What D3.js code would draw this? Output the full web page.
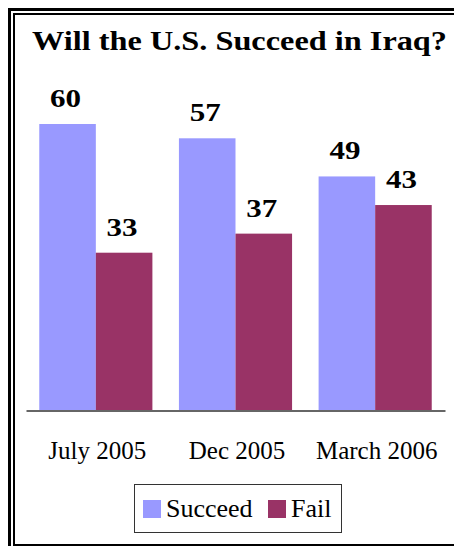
<!DOCTYPE html>
<html>
<head>
<meta charset="utf-8">
<script src="https://cdn.jsdelivr.net/npm/d3@7"></script>
<style>
  html, body { margin: 0; padding: 0; background: #fff; }
  svg { display: block; }
</style>
</head>
<body>
<script>
const categories = ["July 2005", "Dec 2005", "March 2006"];
const seriesNames = ["Succeed", "Fail"];
const succeedValues = [60, 57, 49];
const failValues = [33, 37, 43];
const colors = ["#9999ff", "#993366"];

const width = 454,
    height = 546;

const svg = d3.select("body").append("svg")
    .attr("width", width)
    .attr("height", height);

// double frame (cropped on right and bottom)
svg.append("rect")
    .attr("x", 9.5).attr("y", 9.5)
    .attr("width", 500).attr("height", 600)
    .attr("fill", "none").attr("stroke", "#000").attr("stroke-width", 3);
svg.append("rect")
    .attr("x", 14).attr("y", 14)
    .attr("width", 500).attr("height", 531)
    .attr("fill", "none").attr("stroke", "#000").attr("stroke-width", 2);

// title
svg.append("text")
    .attr("x", 32).attr("y", 50)
    .attr("textLength", 415)
    .attr("lengthAdjust", "spacingAndGlyphs")
    .style("font-family", "'Liberation Serif', 'Times New Roman', serif")
    .style("font-weight", "bold")
    .style("font-size", "27px")
    .text("Will the U.S. Succeed in Iraq?");

//scales
const x0 = d3.scaleBand()
    .domain(categories)
    .range([26, 445])
    .paddingInner(0.19)
    .paddingOuter(0.095);

const x1 = d3.scaleBand()
    .domain(seriesNames)
    .range([0, x0.bandwidth()]);

const y = d3.scaleLinear()
    .domain([0, 60])
    .range([410, 124]);

const rows = categories.map((c, i) => ({
    cat: c,
    vals: [
        { name: "Succeed", v: succeedValues[i] },
        { name: "Fail", v: failValues[i] }
    ]
}));

const groups = svg.selectAll("g.grp")
    .data(rows)
    .enter().append("g")
    .attr("class", "grp")
    .attr("transform", d => `translate(${x0(d.cat)},0)`);

groups.selectAll("rect")
    .data(d => d.vals)
    .enter().append("rect")
    .attr("x", d => x1(d.name))
    .attr("y", d => y(d.v))
    .attr("width", x1.bandwidth())
    .attr("height", d => y(0) - y(d.v))
    .attr("fill", (d, i) => colors[i]);

groups.selectAll("text")
    .data(d => d.vals)
    .enter().append("text")
    .attr("x", d => x1(d.name) + x1.bandwidth() / 2 - 2)
    .attr("y", d => y(d.v) - 17)
    .attr("text-anchor", "middle")
    .attr("textLength", 31)
    .attr("lengthAdjust", "spacingAndGlyphs")
    .style("font-family", "'Liberation Serif', 'Times New Roman', serif")
    .style("font-weight", "bold")
    .style("font-size", "26px")
    .text(d => d.v);

// axis
const axis = svg.append("g")
    .attr("transform", "translate(0,410.5)")
    .call(d3.axisBottom(x0).tickSize(0).tickSizeOuter(0).tickPadding(31));

axis.select(".domain")
    .attr("stroke", "#333")
    .attr("stroke-width", 1.5);

axis.selectAll("text")
    .attr("dx", 1.5)
    .style("font-family", "'Liberation Serif', 'Times New Roman', serif")
    .style("font-size", "25px")
    .attr("fill", "#000");

// legend
const legend = svg.append("g");
legend.append("rect")
    .attr("x", 134.5).attr("y", 484.5)
    .attr("width", 207).attr("height", 48)
    .attr("fill", "#fff").attr("stroke", "#333").attr("stroke-width", 1);

const legendX = [143, 268];
seriesNames.forEach((name, i) => {
    legend.append("rect")
        .attr("x", legendX[i]).attr("y", 500)
        .attr("width", 18).attr("height", 18)
        .attr("fill", colors[i]);
    legend.append("text")
        .attr("x", legendX[i] + 23).attr("y", 517)
        .style("font-family", "'Liberation Serif', 'Times New Roman', serif")
        .style("font-size", "26px")
        .text(name);
});
</script>
</body>
</html>
